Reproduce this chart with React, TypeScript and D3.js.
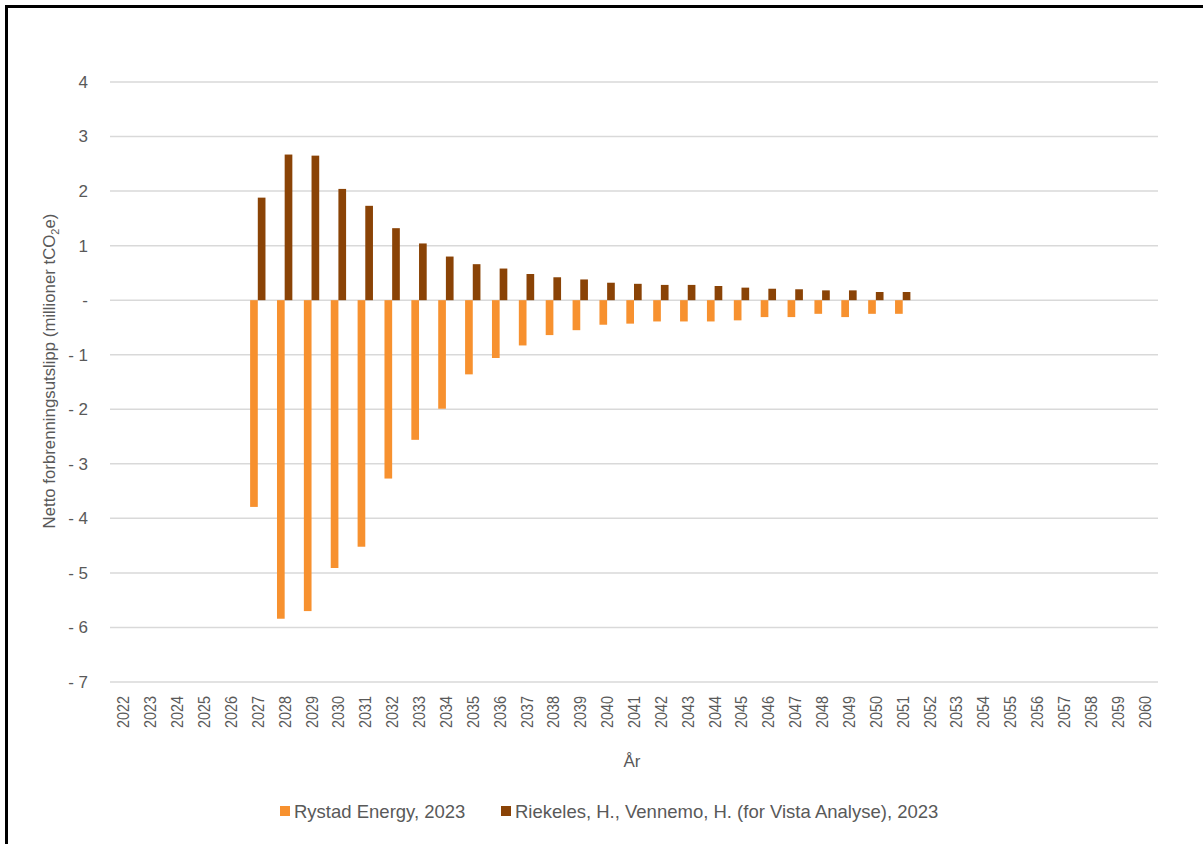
import { useEffect, useRef } from 'react';
import * as d3 from 'd3';

const years = d3.range(2022, 2061).map(String);

// Rystad Energy, 2023 (negative)
const rystadYears = ['2027','2028','2029','2030','2031','2032','2033','2034','2035','2036','2037','2038','2039','2040','2041','2042','2043','2044','2045','2046','2047','2048','2049','2050','2051'];
const rystadValues = [-3.79, -5.84, -5.70, -4.91, -4.52, -3.27, -2.56, -1.99, -1.36, -1.06, -0.83, -0.64, -0.55, -0.45, -0.43, -0.39, -0.39, -0.39, -0.37, -0.31, -0.31, -0.25, -0.31, -0.25, -0.25];

// Riekeles, Vennemo (Vista Analyse), 2023 (positive)
const vistaValues = [1.88, 2.67, 2.65, 2.04, 1.73, 1.32, 1.04, 0.80, 0.66, 0.58, 0.48, 0.42, 0.38, 0.32, 0.30, 0.28, 0.28, 0.26, 0.23, 0.21, 0.20, 0.18, 0.18, 0.15, 0.15];

const seriesNames = ['Rystad Energy, 2023', 'Riekeles, H., Vennemo, H. (for Vista Analyse), 2023'];
const seriesColors = ['#f7912f', '#8a4306'];
const yTicks = [4, 3, 2, 1, 0, -1, -2, -3, -4, -5, -6, -7];

export default function App() {
  const svgRef = useRef<SVGSVGElement>(null);

  useEffect(() => {
    if (!svgRef.current) return;
    const width = 1203;
    const height = 844;
    const margin = { top: 82, right: 45, bottom: 162, left: 110 };
    const innerWidth = width - margin.left - margin.right;
    const innerHeight = height - margin.top - margin.bottom;
    const font = "'Liberation Sans', Arial, sans-serif";
    const textColor = '#595959';

    const svg = d3.select(svgRef.current);
    svg.selectAll('*').remove();

    svg.append('rect')
      .attr('x', 0).attr('y', 0).attr('width', width).attr('height', height)
      .attr('fill', '#ffffff');

    // outer frame (right / bottom edges fall outside the picture)
    svg.append('rect')
      .attr('x', 6.5).attr('y', 6.5).attr('width', width + 20).attr('height', height + 20)
      .attr('fill', 'none').attr('stroke', '#000').attr('stroke-width', 3);

    const g = svg.append('g').attr('transform', `translate(${margin.left},${margin.top})`);

    const x = d3.scaleBand().domain(years).range([0, innerWidth]).padding(0);
    const x1 = d3.scaleBand().domain(['0', '1']).range([0, x.bandwidth()])
      .paddingInner(0).paddingOuter(0.75);
    const y = d3.scaleLinear().domain([-7, 4]).range([innerHeight, 0]);

    // gridlines
    g.append('g')
      .selectAll('line')
      .data(yTicks)
      .join('line')
      .attr('x1', 0).attr('x2', innerWidth)
      .attr('y1', (d) => y(d)).attr('y2', (d) => y(d))
      .attr('stroke', '#d9d9d9').attr('stroke-width', 1.5);

    // y tick labels
    g.append('g')
      .selectAll('text')
      .data(yTicks)
      .join('text')
      .attr('x', -22)
      .attr('y', (d) => y(d))
      .attr('dy', '0.35em')
      .attr('text-anchor', 'end')
      .attr('font-family', font)
      .attr('font-size', 17)
      .attr('fill', textColor)
      .text((d) => (d === 0 ? '-' : d < 0 ? `- ${Math.abs(d)}` : `${d}`));

    // bars
    const rystad = rystadYears.map((yr, i) => ({ yr, v: rystadValues[i] }));
    const vista = rystadYears.map((yr, i) => ({ yr, v: vistaValues[i] }));
    [rystad, vista].forEach((data, si) => {
      g.append('g')
        .selectAll('rect')
        .data(data)
        .join('rect')
        .attr('x', (d) => (x(d.yr) ?? 0) + (x1(String(si)) ?? 0))
        .attr('width', x1.bandwidth())
        .attr('y', (d) => y(Math.max(0, d.v)))
        .attr('height', (d) => Math.abs(y(d.v) - y(0)))
        .attr('fill', seriesColors[si]);
    });

    // x tick labels (rotated)
    g.append('g')
      .selectAll('text')
      .data(years)
      .join('text')
      .attr('transform', (d) => `translate(${(x(d) ?? 0) + x.bandwidth() / 2 + 6},${innerHeight + 14}) rotate(-90)`)
      .attr('text-anchor', 'end')
      .attr('font-family', font)
      .attr('font-size', 16)
      .attr('textLength', 32)
      .attr('lengthAdjust', 'spacingAndGlyphs')
      .attr('fill', textColor)
      .text((d) => d);

    // x axis title
    svg.append('text')
      .attr('x', 632).attr('y', 767)
      .attr('text-anchor', 'middle')
      .attr('font-family', font)
      .attr('font-size', 17)
      .attr('fill', textColor)
      .text('År');

    // y axis title
    const yt = svg.append('text')
      .attr('transform', `translate(55,371) rotate(-90)`)
      .attr('text-anchor', 'middle')
      .attr('font-family', font)
      .attr('font-size', 16.8)
      .attr('fill', textColor);
    yt.append('tspan').text('Netto forbrenningsutslipp (millioner tCO');
    yt.append('tspan').attr('font-size', 11).attr('dy', 3.5).text('2');
    yt.append('tspan').attr('dy', -3.5).text('e)');

    // legend
    const legendX = [280, 501];
    seriesNames.forEach((name, i) => {
      svg.append('rect')
        .attr('x', legendX[i]).attr('y', 806)
        .attr('width', 10).attr('height', 10)
        .attr('fill', seriesColors[i]);
      svg.append('text')
        .attr('x', legendX[i] + 14).attr('y', 818)
        .attr('font-family', font)
        .attr('font-size', 18.5)
        .attr('fill', textColor)
        .text(name);
    });
  }, []);

  return (
    <svg
      ref={svgRef}
      width={1203}
      height={844}
      style={{ position: 'absolute', left: 0, top: 0, display: 'block' }}
    />
  );
}
